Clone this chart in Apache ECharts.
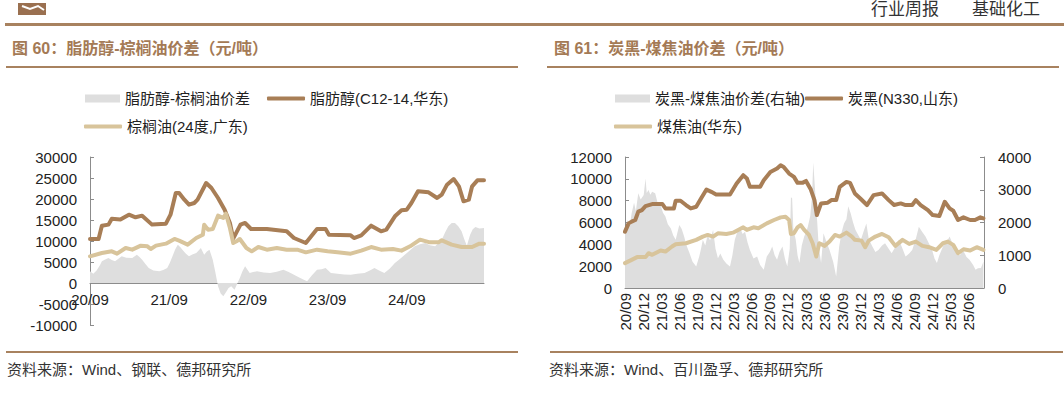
<!DOCTYPE html>
<html>
<head>
<meta charset="utf-8">
<script src="https://cdn.jsdelivr.net/npm/echarts@6/dist/echarts.min.js"></script>
<style>
html,body{margin:0;padding:0;background:#fff;}
#c{width:1064px;height:393px;}
</style>
</head>
<body>
<div id="c"></div>
<script>
// ---- Left chart (图60) : months since 2020-09 ----
const FA_M = [0, 1.3, 1.8, 2.8, 3.3, 4.6, 5.9, 6.9, 7.9, 9.4, 11.5, 12.2, 13.0, 13.5, 14.3, 15.0, 15.8, 16.3, 17.6, 18.4, 19.4, 20.4, 21.2, 21.7, 22.8, 23.5, 24.4, 26.8, 29.8, 30.9, 32.7, 34.4, 35.7, 36.2, 39.5, 40.0, 41.1, 42.6, 44.1, 44.9, 46.2, 47.2, 48.0, 48.7, 49.7, 51.3, 52.6, 53.3, 54.1, 55.1, 55.9, 56.6, 57.4, 57.9, 58.7, 59.7];
const FA_V = [10480, 10480, 13650, 13900, 15300, 15100, 16270, 15640, 16030, 13900, 14130, 16270, 21430, 21430, 19840, 18650, 19050, 19840, 23810, 22620, 20240, 17460, 14290, 10560, 13890, 14290, 12860, 12860, 12300, 10710, 9520, 12860, 12860, 11510, 11350, 10710, 11350, 13650, 12300, 12700, 15870, 17300, 17460, 19050, 21830, 21590, 20240, 21030, 23410, 24760, 23020, 19450, 19840, 23020, 24450, 24450];
const PO_M = [0, 1.8, 3.3, 4.1, 5.4, 6.4, 7.7, 8.7, 9.2, 10, 11.5, 12.8, 13.5, 14.8, 16.1, 17.1, 17.3, 17.9, 18.6, 19.4, 20.2, 20.6, 21.2, 21.7, 22.2, 22.7, 23.7, 24.5, 25.5, 26.8, 28.3, 29.8, 31.4, 32.7, 34.4, 36, 37.5, 39.5, 41.1, 42.6, 44.1, 45.9, 47.2, 48.5, 50, 51.5, 52.8, 53.3, 54.8, 56.3, 57.9, 59, 59.7];
const PO_V = [6350, 7140, 7540, 6980, 8330, 7940, 8890, 8730, 8100, 8890, 9370, 10480, 10080, 9130, 10710, 11510, 13890, 12700, 12860, 16030, 15480, 16510, 13100, 9520, 9920, 10480, 8330, 7540, 8570, 7940, 8330, 7940, 7940, 7300, 7940, 7540, 7300, 6980, 7700, 8570, 7940, 8100, 7700, 8730, 10320, 9680, 9680, 10160, 9130, 8570, 8570, 9370, 9370];
const SP1_M = [0, 0.5, 1, 1.5, 1.8, 2.3, 2.8, 3.3, 3.8, 4.3, 4.8, 5.5, 6.4, 7.1, 7.5, 7.9, 8.4, 8.9, 9.6, 10.5, 11.1, 11.7, 12.1, 12.5, 12.9, 13.3, 13.7, 14, 14.5, 15, 15.5, 16.1, 16.5, 16.8, 17.3, 17.7, 18.1, 18.6, 19, 19.4, 19.8, 20.2, 20.7, 21, 21.4, 21.9, 22.3, 22.7, 23.1, 23.5, 24.2, 24.7, 25.3, 26.3, 27.3, 28.3, 29.3, 30.1, 30.9, 31.7, 32.4, 32.9, 33.6, 34.4, 35.1, 35.7, 36.5, 37.5, 38.5, 39.5, 40.5, 41.6, 42.4, 43.1, 43.8, 44.6, 45.4, 46.2, 47, 47.7, 48.5, 49.2, 50, 50.8, 51.5, 52.3, 52.8, 53.3, 53.8, 54.3, 54.8, 55.3, 55.8, 56.3, 56.7, 57.1, 57.6, 58.0, 58.4, 59, 59.7];
const SP1_V = [2780, 2200, 3000, 4200, 5160, 5600, 5950, 5500, 5160, 5800, 6350, 6000, 5950, 6750, 6200, 5560, 4500, 3570, 3000, 2780, 3100, 3570, 4800, 6350, 8000, 9130, 8500, 7940, 7000, 6350, 6800, 7140, 7800, 8330, 6750, 7500, 7940, 5560, 2500, -790, -2500, -3170, -1980, -1200, -790, -1590, -200, 1190, 2800, 3970, 2380, 2600, 2780, 2500, 2380, 2700, 3170, 2600, 1980, 1300, 790, 400, 1800, 3170, 3300, 3570, 2380, 2200, 2000, 1980, 2200, 2380, 3000, 3570, 3000, 2380, 3400, 4760, 5800, 6750, 7800, 8730, 9200, 9520, 9000, 8730, 9500, 10320, 12000, 13490, 14290, 14290, 13500, 12300, 10500, 8890, 11510, 12800, 13330, 13000, 13100];

// ---- Right chart (图61) ----
const CB_M = [0, 0.6, 1.1, 1.7, 2.2, 2.8, 3.4, 4.5, 6.2, 6.7, 8.1, 8.4, 9.2, 10.1, 10.9, 11.8, 12.6, 13.5, 14.3, 15.1, 17.4, 18.5, 19.6, 20.2, 20.7, 22.4, 23.0, 24.1, 25.2, 25.8, 26.3, 27.2, 28.0, 28.6, 29.4, 30.0, 30.8, 31.4, 31.8, 32.5, 33.6, 34.2, 35.0, 35.6, 36.7, 37.3, 38.1, 39.0, 40.1, 41.2, 42.6, 43.7, 44.6, 45.7, 46.5, 47.6, 48.2, 49.0, 50.2, 51.0, 52.1, 53.0, 53.8, 54.4, 55.2, 56.1, 57.2, 58.0, 58.9, 59.4];
const CB_V = [5160, 5920, 6080, 6230, 6990, 7140, 7500, 7690, 7690, 7290, 7290, 7990, 7990, 7600, 7290, 7440, 8200, 9020, 8810, 8570, 8570, 9570, 10330, 10030, 9270, 9270, 9870, 10630, 10940, 11240, 11090, 10480, 10180, 9630, 9630, 9810, 9020, 8050, 6680, 7750, 7810, 8050, 8050, 9270, 9720, 9630, 8660, 8200, 7600, 8510, 8660, 8050, 7600, 7750, 7600, 7600, 8050, 7600, 7140, 6680, 6590, 7900, 7290, 7080, 6230, 6470, 6230, 6230, 6470, 6380];
const CT_M = [0, 1.1, 2.0, 3.4, 3.9, 4.5, 5.9, 6.7, 7.8, 8.4, 10.1, 11.8, 12.9, 13.7, 14.6, 15.4, 16.8, 17.9, 19.6, 20.2, 21.3, 22.1, 23.5, 24.7, 25.8, 26.6, 27.2, 27.5, 28.0, 28.6, 29.1, 29.7, 30.5, 31.1, 31.7, 32.2, 33.1, 33.9, 34.8, 35.6, 36.7, 37.6, 38.1, 39.2, 39.8, 40.4, 41.5, 42.6, 43.7, 44.8, 46.0, 47.1, 48.2, 49.3, 50.4, 51.6, 52.7, 53.5, 54.4, 55.2, 56.1, 57.2, 58.3, 59.4];
const CT_V = [2280, 2580, 2830, 2830, 3190, 3040, 3430, 3340, 3800, 4010, 4100, 4410, 4710, 4860, 4710, 5010, 4950, 5070, 5560, 5320, 5560, 5470, 5920, 6230, 6470, 6530, 6230, 4950, 5010, 5560, 5770, 5320, 4860, 4100, 2890, 4100, 3860, 4250, 4860, 4710, 5070, 4710, 4410, 4340, 3740, 4340, 4710, 4950, 4650, 3860, 4410, 4040, 4250, 3860, 3740, 3490, 4100, 4250, 3950, 3190, 3550, 3430, 3740, 3490];
const SP2_M = [0, 0.4, 0.8, 1.1, 1.5, 1.8, 2.2, 2.6, 3.1, 3.4, 3.6, 3.9, 4.2, 4.5, 5, 5.4, 5.9, 6.3, 6.7, 7.1, 7.6, 8, 8.4, 8.7, 9, 9.4, 9.8, 10.2, 10.7, 11.2, 11.8, 12.3, 12.6, 12.9, 13.3, 13.7, 14.1, 14.6, 15, 15.4, 15.8, 16.3, 16.8, 17.4, 17.8, 18.2, 18.6, 19.1, 19.5, 19.9, 20.3, 20.7, 21.3, 21.9, 22.4, 23, 23.5, 24, 24.4, 24.8, 25.2, 25.6, 26.1, 26.5, 26.9, 27.3, 27.5, 27.7, 27.9, 28.3, 28.6, 28.9, 29.3, 29.7, 30, 30.3, 30.7, 31.0, 31.2, 31.5, 31.8, 32.1, 32.5, 32.9, 33.4, 33.9, 34.5, 35, 35.5, 35.9, 36.3, 36.7, 37, 37.4, 37.8, 38.2, 38.7, 39.1, 39.5, 40, 40.4, 41, 41.5, 42, 42.6, 43.1, 43.7, 44.2, 44.8, 45.4, 46, 46.5, 47.1, 47.6, 48.2, 48.7, 49.3, 49.8, 50.4, 50.9, 51.3, 51.7, 52.1, 52.7, 53.3, 53.8, 54.4, 55, 55.5, 56, 56.6, 57.1, 57.7, 58.1, 58.5, 59, 59.4];
const SP2_V = [1670, 2080, 1900, 2280, 2600, 2350, 2890, 2700, 2840, 3340, 2900, 2990, 2850, 2940, 2890, 2600, 2530, 2300, 2180, 1950, 1820, 1600, 1470, 1700, 1920, 1800, 1570, 1300, 1060, 800, 660, 960, 1200, 1470, 1300, 1620, 1450, 1770, 1200, 910, 1050, 860, 750, 660, 1000, 1470, 1700, 1820, 1650, 1720, 1400, 1160, 900, 960, 700, 560, 960, 1100, 1270, 1000, 860, 1100, 1270, 900, 660, 1200, 2770, 2740, 1800, 1470, 1000, 760, 1300, 1570, 1700, 1870, 2200, 2800, 3830, 3000, 2180, 1300, 760, 1670, 1400, 1160, 800, 350, 1270, 1700, 1970, 2100, 2500, 2280, 2000, 1770, 1600, 1470, 1700, 1970, 1500, 1270, 1100, 1160, 1300, 1370, 1200, 1060, 1250, 1470, 1200, 960, 1050, 1160, 1500, 1870, 1700, 1570, 1350, 1160, 900, 760, 1000, 1270, 1400, 1570, 1300, 1060, 1000, 1160, 950, 860, 700, 560, 600, 610, 800, 960];

const LEFT_TICKS = [-10000, 30000, 5000];
const RIGHT_L_TICKS = [0, 12000, 2000];
const RIGHT_R_TICKS = [0, 4000, 1000];

function zip(a, b) { return a.map((m, i) => [m, b[i]]); }
function fmt(m) {
  const t = 2020 * 12 + 8 + Math.round(m);
  const y = Math.floor(t / 12) % 100;
  const mo = t % 12 + 1;
  return y + '/' + String(mo).padStart(2, '0');
}
function num(v) { return String(v); }

const BROWN = '#a87e56';
const TAN = '#d8c49b';
const GRAY = '#dedede';
const RULE = '#a8825f';
const AX = '#8c8c8c';
const FONT = '"Liberation Sans", Arial, "Noto Sans CJK SC", sans-serif';

const axisLabel = { color: '#222', fontSize: 15, fontFamily: FONT };

const chart = echarts.init(document.getElementById('c'), null, { renderer: 'svg' });

const lineSeries = (name, xi, yi, data, color) => ({
  name, type: 'line', xAxisIndex: xi, yAxisIndex: yi, data, symbol: 'none',
  lineStyle: { color, width: 4, cap: 'round', join: 'round' }, itemStyle: { color },
  emphasis: { disabled: true }, animation: false
});
const areaSeries = (name, xi, yi, data) => ({
  name, type: 'line', xAxisIndex: xi, yAxisIndex: yi, data, symbol: 'none',
  lineStyle: { width: 0, color: GRAY }, itemStyle: { color: GRAY },
  areaStyle: { color: GRAY, opacity: 1 }, emphasis: { disabled: true }, animation: false
});

const lg = (name, left, top, isRect) => ({
  left, top, orient: 'horizontal', selectedMode: false,
  itemWidth: isRect ? 35 : 38, itemHeight: isRect ? 8 : 4, itemGap: 0,
  icon: isRect ? 'rect' : 'roundRect',
  textStyle: { fontSize: 15, color: '#222', fontFamily: FONT },
  data: [name]
});

chart.setOption({
  animation: false,
  title: [
    { text: '图 60：脂肪醇-棕榈油价差（元/吨）', left: 7, top: 35,
      textStyle: { fontSize: 16, fontWeight: 'bold', color: '#a47a55', fontFamily: FONT } },
    { text: '图 61：炭黑-煤焦油价差（元/吨）', left: 549, top: 35,
      textStyle: { fontSize: 16, fontWeight: 'bold', color: '#a47a55', fontFamily: FONT } }
  ],
  legend: [
    lg('脂肪醇-棕榈油价差', 80, 86, true),
    lg('脂肪醇(C12-14,华东)', 262, 86, false),
    lg('棕榈油(24度,广东)', 79, 114, false),
    lg('炭黑-煤焦油价差(右轴)', 610, 86, true),
    lg('炭黑(N330,山东)', 800, 86, false),
    lg('煤焦油(华东)', 609, 114, false)
  ],
  grid: [
    { left: 90, top: 157, width: 394, height: 168 },
    { left: 625, top: 157, width: 359, height: 131 }
  ],
  xAxis: [
    { type: 'value', gridIndex: 0, min: 0, max: 59.7, interval: 12, offset: -42,
      axisLine: { onZero: false, lineStyle: { color: AX } },
      axisTick: { inside: true, length: 5, lineStyle: { color: AX } },
      axisLabel: Object.assign({}, axisLabel, { margin: 9, showMaxLabel: false, formatter: fmt }),
      splitLine: { show: false } },
    { type: 'value', gridIndex: 1, min: 0, max: 59.5, interval: 3,
      axisLine: { onZero: false, lineStyle: { color: AX } },
      axisTick: { inside: true, length: 4, lineStyle: { color: AX } },
      axisLabel: Object.assign({}, axisLabel, { margin: 5, rotate: 90, showMaxLabel: false, formatter: fmt }),
      splitLine: { show: false } }
  ],
  yAxis: [
    { type: 'value', gridIndex: 0, min: LEFT_TICKS[0], max: LEFT_TICKS[1], interval: LEFT_TICKS[2],
      axisLine: { show: true, onZero: false, lineStyle: { color: AX } },
      axisTick: { show: true, inside: true, length: 4, lineStyle: { color: AX } },
      axisLabel: Object.assign({}, axisLabel, { margin: 13, formatter: num }), splitLine: { show: false } },
    { type: 'value', gridIndex: 1, min: RIGHT_L_TICKS[0], max: RIGHT_L_TICKS[1], interval: RIGHT_L_TICKS[2],
      axisLine: { show: true, onZero: false, lineStyle: { color: AX } },
      axisTick: { show: true, inside: true, length: 4, lineStyle: { color: AX } },
      axisLabel: Object.assign({}, axisLabel, { margin: 13, formatter: num }), splitLine: { show: false } },
    { type: 'value', gridIndex: 1, position: 'right', min: RIGHT_R_TICKS[0], max: RIGHT_R_TICKS[1], interval: RIGHT_R_TICKS[2],
      axisLine: { show: true, onZero: false, lineStyle: { color: AX } },
      axisTick: { show: true, inside: true, length: 4, lineStyle: { color: AX } },
      axisLabel: Object.assign({}, axisLabel, { margin: 14, formatter: num }), splitLine: { show: false } }
  ],
  series: [
    areaSeries('脂肪醇-棕榈油价差', 0, 0, zip(SP1_M, SP1_V)),
    lineSeries('脂肪醇(C12-14,华东)', 0, 0, zip(FA_M, FA_V), BROWN),
    lineSeries('棕榈油(24度,广东)', 0, 0, zip(PO_M, PO_V), TAN),
    areaSeries('炭黑-煤焦油价差(右轴)', 1, 2, zip(SP2_M, SP2_V)),
    lineSeries('炭黑(N330,山东)', 1, 1, zip(CB_M, CB_V), BROWN),
    lineSeries('煤焦油(华东)', 1, 1, zip(CT_M, CT_V), TAN)
  ],
  graphic: [
    { type: 'rect', shape: { x: 18, y: 3, width: 28, height: 12 }, style: { fill: '#9a7050' } },
    { type: 'polyline', shape: { points: [[22, 6], [30, 9], [38, 6], [44, 10]] }, style: { stroke: '#fff', lineWidth: 2, fill: null } },
    { type: 'text', left: 871, top: 1, style: { text: '行业周报', fontSize: 17, fill: '#333', fontFamily: FONT } },
    { type: 'text', left: 972, top: 1, style: { text: '基础化工', fontSize: 17, fill: '#333', fontFamily: FONT } },
    { type: 'rect', shape: { x: 5, y: 23, width: 1059, height: 3 }, style: { fill: RULE } },
    { type: 'rect', shape: { x: 6, y: 66, width: 512, height: 2 }, style: { fill: RULE } },
    { type: 'rect', shape: { x: 547, y: 66, width: 512, height: 2 }, style: { fill: RULE } },
    { type: 'rect', shape: { x: 6, y: 351, width: 512, height: 2 }, style: { fill: RULE } },
    { type: 'rect', shape: { x: 550, y: 351, width: 513, height: 2 }, style: { fill: RULE } },
    { type: 'text', left: 7, top: 362, style: { text: '资料来源：Wind、钢联、德邦研究所', fontSize: 15, fill: '#333', fontFamily: FONT } },
    { type: 'text', left: 549, top: 362, style: { text: '资料来源：Wind、百川盈孚、德邦研究所', fontSize: 15, fill: '#333', fontFamily: FONT } }
  ]
});
</script>
</body>
</html>
